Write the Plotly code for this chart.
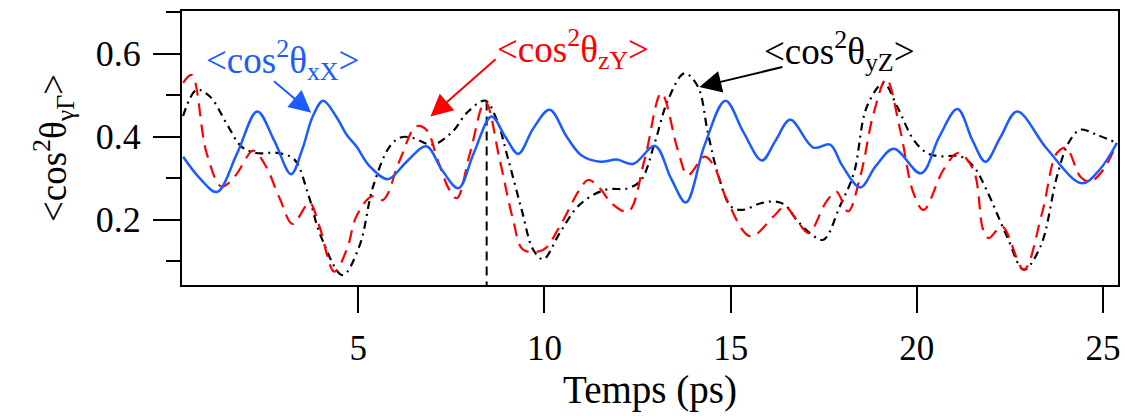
import plotly.graph_objects as go

# ---- data ----
blue_x = [0.30, 0.75, 1.21, 1.75, 2.29, 2.75, 3.20, 3.50, 3.78, 4.06, 4.40, 4.69, 4.95, 5.31, 5.80, 6.30, 6.83,
          7.25, 7.69, 8.10, 8.58, 8.95, 9.30, 9.70, 10.14, 10.60, 11.00, 11.50, 11.94, 12.39, 12.97, 13.40,
          13.80, 14.30, 14.86, 15.35, 15.84, 16.20, 16.60, 17.22, 17.67, 18.00, 18.48, 18.90, 19.38, 20.11,
          20.60, 21.09, 21.50, 21.84, 22.25, 22.69, 23.50, 24.43, 24.90, 25.37]
blue_y = [0.352, 0.300, 0.267, 0.360, 0.461, 0.390, 0.310, 0.370, 0.449, 0.487, 0.450, 0.405, 0.377, 0.329,
          0.298, 0.340, 0.377, 0.320, 0.276, 0.360, 0.449, 0.400, 0.359, 0.420, 0.465, 0.400, 0.355, 0.340,
          0.345, 0.335, 0.378, 0.300, 0.242, 0.380, 0.487, 0.410, 0.343, 0.390, 0.441, 0.374, 0.381, 0.330,
          0.278, 0.330, 0.371, 0.312, 0.400, 0.467, 0.390, 0.340, 0.400, 0.461, 0.370, 0.288, 0.320, 0.385]

red_x = [0.30, 0.53, 0.93, 1.33, 1.68, 2.13, 2.22, 2.53, 2.90, 3.24, 3.69, 3.96, 4.36, 4.70, 4.95, 5.36,
         5.67, 6.10, 6.56, 6.83, 7.15, 7.45, 7.65, 8.00, 8.41, 8.80, 9.16, 9.43, 9.97, 10.41, 10.94, 11.18,
         11.50, 11.80, 12.25, 12.69, 13.14, 13.58, 13.85, 14.30, 14.55, 14.90, 15.53, 16.15, 16.46, 16.77,
         17.09, 17.57, 17.84, 18.15, 18.48, 18.84, 19.18, 19.55, 19.91, 20.18, 20.71, 21.11, 21.52, 21.78,
         21.93, 22.29, 22.87, 23.36, 23.76, 24.01, 24.39, 24.65, 25.00, 25.37]
red_y = [0.530, 0.549, 0.361, 0.280, 0.304, 0.365, 0.366, 0.328, 0.250, 0.190, 0.241, 0.184, 0.075, 0.130,
         0.208, 0.256, 0.248, 0.340, 0.425, 0.417, 0.340, 0.272, 0.252, 0.360, 0.485, 0.345, 0.200, 0.128,
         0.128, 0.184, 0.272, 0.296, 0.275, 0.240, 0.220, 0.345, 0.505, 0.369, 0.308, 0.352, 0.330, 0.248,
         0.160, 0.208, 0.232, 0.200, 0.168, 0.244, 0.268, 0.220, 0.304, 0.457, 0.539, 0.417, 0.264, 0.224,
         0.320, 0.361, 0.320, 0.176, 0.156, 0.184, 0.080, 0.216, 0.361, 0.373, 0.304, 0.292, 0.320, 0.385]

black_x = [0.30, 0.66, 1.02, 1.46, 1.86, 2.26, 2.84, 3.29, 3.65, 4.00, 4.58, 5.03, 5.40, 5.85, 6.16, 6.47,
           7.00, 7.54, 7.91, 8.41, 8.72, 9.03, 9.39, 9.70, 9.97, 10.41, 10.94, 11.62, 12.25, 12.60, 12.96,
           13.32, 13.76, 14.12, 14.39, 14.65, 15.01, 15.32, 15.81, 16.20, 16.46, 16.77, 17.13, 17.49, 17.93,
           18.31, 18.66, 19.11, 19.47, 19.91, 20.27, 20.62, 21.16, 21.52, 21.87, 22.42, 22.87, 23.32, 23.76,
           24.07, 24.39, 24.83, 25.37]
black_y = [0.450, 0.513, 0.497, 0.433, 0.377, 0.361, 0.361, 0.345, 0.264, 0.160, 0.067, 0.136, 0.280, 0.377,
           0.399, 0.397, 0.381, 0.413, 0.457, 0.487, 0.441, 0.345, 0.224, 0.128, 0.105, 0.168, 0.236, 0.272,
           0.276, 0.296, 0.385, 0.489, 0.553, 0.521, 0.409, 0.313, 0.232, 0.224, 0.240, 0.244, 0.236, 0.200,
           0.168, 0.152, 0.232, 0.313, 0.473, 0.529, 0.473, 0.393, 0.361, 0.353, 0.353, 0.329, 0.272, 0.160,
           0.080, 0.136, 0.304, 0.385, 0.417, 0.405, 0.385]

marker_x = [8.45, 8.45]
marker_y = [0.485, 0.0]

x_ticks = [5, 10, 15, 20, 25]
y_ticks = [0.2, 0.4, 0.6]
y_minor = [0.1, 0.3, 0.5, 0.7]

FONT = "Liberation Serif"
BLUE = "#1a5cff"
RED = "#ff0000"
BLACK = "#000000"

fig = go.Figure()
fig.add_trace(go.Scatter(x=marker_x, y=marker_y, mode="lines",
                         line=dict(color=BLACK, width=2, dash="9px,6px"), showlegend=False))
fig.add_trace(go.Scatter(x=black_x, y=black_y, mode="lines", line_shape="spline",
                         line=dict(color=BLACK, width=2.2, dash="8px,5px,2px,5px"), showlegend=False))
fig.add_trace(go.Scatter(x=red_x, y=red_y, mode="lines", line_shape="spline",
                         line=dict(color=RED, width=2.2, dash="13px,8px"), showlegend=False))
fig.add_trace(go.Scatter(x=blue_x, y=blue_y, mode="lines", line_shape="spline",
                         line=dict(color=BLUE, width=2.5), showlegend=False))

labels = [
    ("&lt;cos<sup>2</sup>θ<sub>xX</sub>&gt;", BLUE, 2.97, 0.585, 3.74, 0.458, 2.70, 0.537),
    ("&lt;cos<sup>2</sup>θ<sub>zY</sub>&gt;", RED, 10.78, 0.612, 6.94, 0.449, 8.73, 0.590),
    ("&lt;cos<sup>2</sup>θ<sub>yZ</sub>&gt;", BLACK, 17.91, 0.607, 14.16, 0.520, 16.43, 0.569),
]
for txt, col, tx, ty, hx, hy, ax_, ay_ in labels:
    fig.add_annotation(x=tx, y=ty, xref="x", yref="y", text=txt, showarrow=False,
                       font=dict(family=FONT, size=37, color=col), xanchor="center", yanchor="middle")
    fig.add_annotation(x=hx, y=hy, ax=ax_, ay=ay_, xref="x", yref="y", axref="x", ayref="y",
                       text="", showarrow=True, arrowhead=2, arrowsize=2.2, arrowwidth=2,
                       arrowcolor=col, standoff=0, startstandoff=0)

fig.update_layout(
    width=1125, height=416,
    margin=dict(l=182, r=4, t=11, b=131),
    plot_bgcolor="white", paper_bgcolor="white",
    font=dict(family=FONT, size=34, color="black"),
    xaxis=dict(range=[0.27, 25.4], tickvals=x_ticks, ticks="outside", ticklen=26, tickwidth=2,
               tickcolor="black", showline=True, linecolor="black", linewidth=2, mirror=True,
               showgrid=False, zeroline=False, ticklabelstandoff=5,
               tickfont=dict(family=FONT, size=35),
               title=dict(text="Temps (ps)", font=dict(family=FONT, size=39), standoff=4)),
    yaxis=dict(range=[0.043, 0.703], tickvals=y_ticks, ticktext=["0.2", "0.4", "0.6"],
               ticks="outside", ticklen=27, tickwidth=2, tickcolor="black",
               minor=dict(tickvals=y_minor, ticks="outside", ticklen=14, tickwidth=2,
                          tickcolor="black", showgrid=False),
               showline=True, linecolor="black", linewidth=2, mirror=True,
               showgrid=False, zeroline=False, ticklabelstandoff=5,
               tickfont=dict(family=FONT, size=36),
               title=dict(text="&lt;cos<sup>2</sup>θ<sub>γΓ</sub>&gt;", font=dict(family=FONT, size=37),
                          standoff=18)),
)

fig.write_html("out.html", config={"displayModeBar": False},
               post_script="document.body.style.margin='0px';")
